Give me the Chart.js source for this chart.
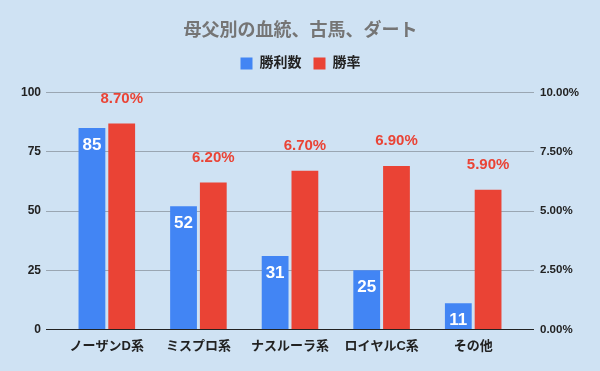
<!DOCTYPE html>
<html>
<head>
<meta charset="utf-8">
<script src="https://cdn.jsdelivr.net/npm/chart.js@4"></script>
<style>
  html, body { margin: 0; padding: 0; background: #cfe2f3; }
  #wrap { width: 600px; height: 371px; position: relative; }
</style>
</head>
<body>
<div id="wrap"><canvas id="chart"></canvas></div>
<script>
const categories = ['ノーザンD系', 'ミスプロ系', 'ナスルーラ系', 'ロイヤルC系', 'その他'];
const wins = [85, 52, 31, 25, 11];
const winRate = [8.7, 6.2, 6.7, 6.9, 5.9];
const leftTicks = [0, 25, 50, 75, 100];
const rightTicks = [0, 2.5, 5, 7.5, 10];

const FONT = "'Liberation Sans', 'Noto Sans CJK JP', sans-serif";
const GRID = '#9aa6b2';
const gridColor = ctx => (ctx.tick && ctx.tick.value === 0) ? '#222' : GRID;

// draws value labels on top of bars
const barLabels = {
    id: 'barLabels',
    afterDatasetsDraw(chart) {
        const ctx = chart.ctx;
        ctx.save();
        ctx.textAlign = 'center';
        ctx.textBaseline = 'middle';
        chart.getDatasetMeta(0).data.forEach((bar, i) => {
            ctx.fillStyle = '#ffffff';
            ctx.font = 'bold 17px ' + FONT;
            ctx.fillText(String(wins[i]), bar.x, bar.y + 17);
        });
        chart.getDatasetMeta(1).data.forEach((bar, i) => {
            ctx.fillStyle = '#ea4335';
            ctx.font = 'bold 15px ' + FONT;
            ctx.fillText(winRate[i].toFixed(2) + '%', bar.x, bar.y - 25);
        });
        ctx.restore();
    }
};

// extra space under the legend
const legendGap = {
    id: 'legendGap',
    beforeInit(chart) {
        const fit = chart.legend.fit;
        chart.legend.fit = function () {
            fit.call(this);
            this.height += 12;
        };
    }
};

new Chart(document.getElementById('chart'), {
    type: 'bar',
    data: {
        labels: categories,
        datasets: [{
            label: '勝利数',
            data: wins,
            backgroundColor: '#4285f4',
            yAxisID: 'y',
            barPercentage: 0.9,
            categoryPercentage: 0.65
        }, {
            label: '勝率',
            data: winRate,
            backgroundColor: '#ea4335',
            yAxisID: 'y1',
            barPercentage: 0.9,
            categoryPercentage: 0.65
        }]
    },
    options: {
        responsive: true,
        maintainAspectRatio: false,
        animation: false,
        layout: { padding: { left: 16, right: 15, top: 8, bottom: 16 } },
        plugins: {
            title: {
                display: true,
                text: '母父別の血統、古馬、ダート',
                color: '#757575',
                font: { family: FONT, size: 18, weight: 'bold' },
                padding: { top: 12, bottom: 3 }
            },
            legend: {
                labels: {
                    color: '#222',
                    boxWidth: 12,
                    boxHeight: 12,
                    padding: 12,
                    font: { family: FONT, size: 14, weight: 'bold' }
                }
            },
            tooltip: { enabled: false }
        },
        scales: {
            x: {
                grid: { display: false },
                border: { display: false },
                ticks: { color: '#222', font: { family: FONT, size: 13, weight: 'bold' }, padding: 1 }
            },
            y: {
                position: 'left',
                min: 0, max: 100,
                afterBuildTicks: axis => { axis.ticks = leftTicks.map(v => ({ value: v })); },
                grid: { color: gridColor, tickLength: 15 },
                border: { display: false },
                ticks: { color: '#222', font: { family: FONT, size: 12, weight: 'bold' }, padding: 5 }
            },
            y1: {
                position: 'right',
                min: 0, max: 10,
                afterBuildTicks: axis => { axis.ticks = rightTicks.map(v => ({ value: v })); },
                grid: { drawOnChartArea: false, color: gridColor, tickLength: 15 },
                border: { display: false },
                ticks: {
                    color: '#222',
                    font: { family: FONT, size: 11.5, weight: 'bold' },
                    padding: 6,
                    callback: v => v.toFixed(2) + '%'
                }
            }
        }
    },
    plugins: [barLabels, legendGap]
});
</script>
</body>
</html>
